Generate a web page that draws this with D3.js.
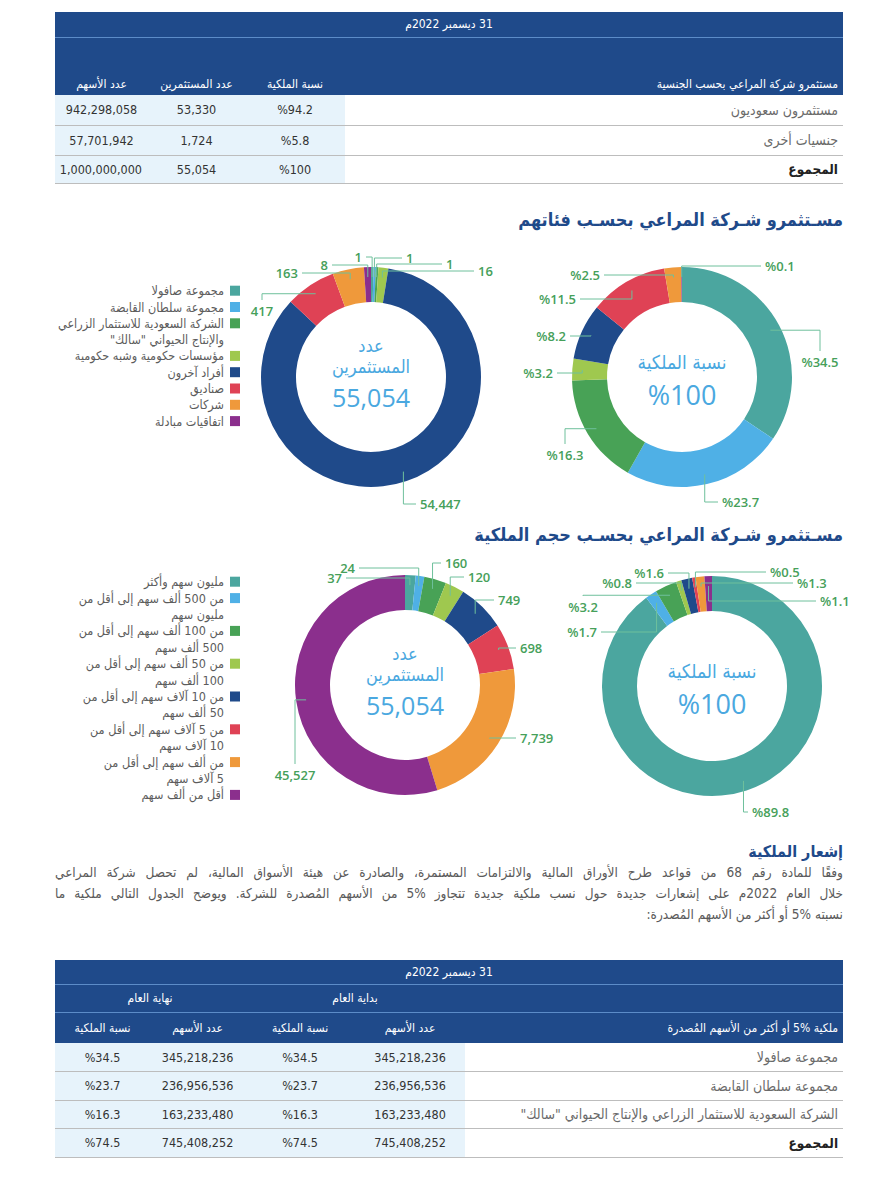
<!DOCTYPE html>
<html lang="ar">
<head>
<meta charset="utf-8">
<script src="https://cdn.jsdelivr.net/npm/d3@7"></script>
<style>
  body { margin: 0; background: #fff; font-family: "DejaVu Sans Condensed", "DejaVu Sans", sans-serif; }
  #page { position: relative; width: 888px; height: 1200px; overflow: hidden; }
  .tbl { position: absolute; border-collapse: collapse; direction: rtl; table-layout: fixed; font-size: 12px; }
  .tbl th { background: #1f4a8a; color: #fff; font-weight: normal; padding: 0 6px; text-align: center; }
  .tbl th.lab { text-align: right; }
  .tbl tr.top th { border-bottom: 1px solid #5c8cc8; }
  .tbl td { padding: 0 6px; border-bottom: 1.5px solid #bdbdbd; }
  .tbl td.num { background: #e7f3fb; text-align: center; color: #333; font-size: 12.5px; }
  .tbl td.lab { text-align: right; color: #6a6a6a; font-size: 14px; }
  .tbl tr.total td.lab { color: #222; font-weight: bold; font-size: 13.5px; }
  .title { position: absolute; right: 45px; direction: rtl; color: #1f4a8a; font-weight: bold; font-size: 18px; white-space: nowrap; }
  .para { position: absolute; left: 55px; width: 788px; direction: rtl; color: #5a5a5a; font-size: 13.5px; }
  .para div { height: 21px; line-height: 21px; white-space: nowrap; }
  .para div.j { text-align: justify; text-align-last: justify; white-space: normal; }
  svg { position: absolute; left: 0; top: 0; pointer-events: none; }
</style>
</head>
<body>
<div id="page"></div>
<script>
// ---- data ----
const nationalityNames = ['مستثمرون سعوديون', 'جنسيات أخرى'];
const nationalityOwnership = [94.2, 5.8];
const nationalityInvestors = [53330, 1724];
const nationalityShares = [942298058, 57701942];

const categoryNames = [
  ['مجموعة صافولا'],
  ['مجموعة سلطان القابضة'],
  ['الشركة السعودية للاستثمار الزراعي', 'والإنتاج الحيواني "سالك"'],
  ['مؤسسات حكومية وشبه حكومية'],
  ['أفراد آخرون'],
  ['صناديق'],
  ['شركات'],
  ['اتفاقيات مبادلة']
];
const categoryInvestors = [1, 1, 1, 16, 54447, 417, 163, 8];
const categoryOwnership = [34.5, 23.7, 16.3, 3.2, 8.2, 11.5, 2.5, 0.1];

const sizeNames = [
  ['مليون سهم وأكثر'],
  ['من 500 ألف سهم إلى أقل من', 'مليون سهم'],
  ['من 100 ألف سهم إلى أقل من', '500 ألف سهم'],
  ['من 50 ألف سهم إلى أقل من', '100 ألف سهم'],
  ['من 10 آلاف سهم إلى أقل من', '50 ألف سهم'],
  ['من 5 آلاف سهم إلى أقل من', '10 آلاف سهم'],
  ['من ألف سهم إلى أقل من', '5 آلاف سهم'],
  ['أقل من ألف سهم']
];
const sizeInvestors = [37, 24, 160, 120, 749, 698, 7739, 45527];
const sizeOwnership = [89.8, 1.7, 3.2, 0.8, 1.6, 0.5, 1.3, 1.1];

const holderNames = ['مجموعة صافولا', 'مجموعة سلطان القابضة', 'الشركة السعودية للاستثمار الزراعي والإنتاج الحيواني "سالك"'];
const holderSharesStart = [345218236, 236956536, 163233480];
const holderOwnershipStart = [34.5, 23.7, 16.3];
const holderSharesEnd = [345218236, 236956536, 163233480];
const holderOwnershipEnd = [34.5, 23.7, 16.3];

// ---- style ----
const palette = ['#4ba69f', '#4fb0e6', '#48a256', '#9fc84f', '#1f4a8a', '#df4255', '#ef993b', '#8b2f8d'];
const leaderColor = '#6fc09c';
const labelColor = '#46a05a';
const centerColor = '#4aa8e0';

const fmt = d3.format(',');
const pct = v => '%' + (+v.toFixed(1));
const rtl = s => '\u200F' + s + '\u200F';

const page = d3.select('#page');

// ---- top table: by nationality ----
const t1 = page.append('table').attr('class', 'tbl')
  .style('left', '55px').style('top', '12px').style('width', '788px');
const cg1 = t1.append('colgroup');
[498, 100, 97, 93].forEach(w => cg1.append('col').style('width', w + 'px'));
t1.append('tr').attr('class', 'top').style('height', '25px')
  .append('th').attr('colspan', 4).text('31 ديسمبر 2022م');
const h1 = t1.append('tr').style('height', '58px');
['مستثمرو شركة المراعي بحسب الجنسية', 'نسبة الملكية', 'عدد المستثمرين', 'عدد الأسهم'].forEach((s, i) =>
  h1.append('th').attr('class', i === 0 ? 'lab' : null).style('vertical-align', 'bottom')
    .style('padding-bottom', '4px').style('padding-right', i === 0 ? '5px' : null).text(s));
const rows1 = nationalityNames.map((n, i) => [n, pct(nationalityOwnership[i]), fmt(nationalityInvestors[i]), fmt(nationalityShares[i])]);
rows1.push(['المجموع', pct(d3.sum(nationalityOwnership)), fmt(d3.sum(nationalityInvestors)), fmt(d3.sum(nationalityShares))]);
rows1.forEach((r, ri) => {
  const tr = t1.append('tr').attr('class', ri === rows1.length - 1 ? 'total' : null)
    .style('height', ri === rows1.length - 1 ? '28px' : '30px');
  r.forEach((c, ci) => tr.append('td').attr('class', ci === 0 ? 'lab' : 'num')
    .style('padding-right', ci === 0 ? '5px' : null).text(c));
});

// ---- section titles ----
page.append('div').attr('class', 'title').style('top', '209px').text('مسـتثمرو شـركة المراعي بحسـب فئاتهم');
page.append('div').attr('class', 'title').style('top', '524px').text('مسـتثمرو شـركة المراعي بحسـب حجم الملكية');

// ---- paragraph ----
page.append('div').attr('class', 'title').style('top', '842px').style('font-size', '16px').text('إشعار الملكية');
const para = page.append('div').attr('class', 'para').style('top', '862px');
para.append('div').attr('class', 'j').text('وفقًا للمادة رقم 68 من قواعد طرح الأوراق المالية والالتزامات المستمرة، والصادرة عن هيئة الأسواق المالية، لم تحصل شركة المراعي');
para.append('div').attr('class', 'j').text('خلال العام 2022م على إشعارات جديدة حول نسب ملكية جديدة تتجاوز %5 من الأسهم المُصدرة للشركة. ويوضح الجدول التالي ملكية ما');
para.append('div').text('نسبته %5 أو أكثر من الأسهم المُصدرة:');

// ---- bottom table: holders of 5% or more ----
const t2 = page.append('table').attr('class', 'tbl')
  .style('left', '55px').style('top', '960px').style('width', '788px');
const cg2 = t2.append('colgroup');
[378, 110, 110, 95, 95].forEach(w => cg2.append('col').style('width', w + 'px'));
t2.append('tr').attr('class', 'top').style('height', '24px')
  .append('th').attr('colspan', 5).text('31 ديسمبر 2022م');
const g2 = t2.append('tr').attr('class', 'top').style('height', '28px');
g2.append('th');
g2.append('th').attr('colspan', 2).text('بداية العام');
g2.append('th').attr('colspan', 2).text('نهاية العام');
const h2 = t2.append('tr').style('height', '31px');
['ملكية %5 أو أكثر من الأسهم المُصدرة', 'عدد الأسهم', 'نسبة الملكية', 'عدد الأسهم', 'نسبة الملكية'].forEach((s, i) =>
  h2.append('th').attr('class', i === 0 ? 'lab' : null).style('padding-right', i === 0 ? '5px' : null).text(s));
const rows2 = holderNames.map((n, i) => [n, fmt(holderSharesStart[i]), pct(holderOwnershipStart[i]), fmt(holderSharesEnd[i]), pct(holderOwnershipEnd[i])]);
rows2.push(['المجموع', fmt(d3.sum(holderSharesStart)), pct(d3.sum(holderOwnershipStart)), fmt(d3.sum(holderSharesEnd)), pct(d3.sum(holderOwnershipEnd))]);
rows2.forEach((r, ri) => {
  const tr = t2.append('tr').attr('class', ri === rows2.length - 1 ? 'total' : null).style('height', '28.5px');
  r.forEach((c, ci) => tr.append('td').attr('class', ci === 0 ? 'lab' : 'num')
    .style('padding-right', ci === 0 ? '5px' : null).text(c));
});

// ---- donut charts ----
const svg = page.append('svg').attr('width', 888).attr('height', 1200);
const arc = d3.arc().innerRadius(75).outerRadius(110);
const anchorR = 100;

// counts are drawn on a sqrt scale so the small groups stay visible, as in the source
const countWeight = values => {
  const s = d3.scaleSqrt().domain([0, d3.max(values)]).range([0, 1]);
  return v => s(v);
};

function donut(cx, cy, values, weight, format, layout, center) {
  const g = svg.append('g').attr('transform', `translate(${cx},${cy})`);
  const arcs = d3.pie().sort(null).value(weight)(values);

  g.selectAll('path.slice').data(arcs).join('path')
    .attr('class', 'slice')
    .attr('d', arc)
    .attr('fill', (d, i) => palette[i]);

  arcs.forEach((d, i) => {
    const a = (d.startAngle + d.endAngle) / 2;
    const ax = Math.sin(a) * anchorR, ay = -Math.cos(a) * anchorR;
    const [lx, ly, bend] = layout[i];
    let pts, anchor;
    if (bend === 'h') {
      const s = lx > ax ? 1 : -1;
      pts = [[ax, ay], [ax, ly], [lx - 4 * s, ly]];
      anchor = s > 0 ? 'start' : 'end';
    } else {
      const s = ly > ay ? 1 : -1;
      pts = [[ax, ay], [lx, ay], [lx, ly - 11 * s]];
      anchor = 'middle';
    }
    g.append('path')
      .attr('d', d3.line()(pts))
      .attr('fill', 'none')
      .attr('stroke', leaderColor)
      .attr('stroke-width', 1);
    g.append('text')
      .attr('x', lx).attr('y', ly)
      .attr('dominant-baseline', 'central')
      .attr('text-anchor', anchor)
      .attr('fill', labelColor)
      .style('font-family', '"Open Sans", sans-serif')
      .style('font-weight', 600)
      .style('font-size', '13px')
      .text(format(values[i]));
  });

  center.forEach(c => {
    g.append('text')
      .attr('y', c.y)
      .attr('text-anchor', 'middle')
      .attr('dominant-baseline', 'central')
      .attr('fill', centerColor)
      .style('font-family', c.num ? '"Open Sans", sans-serif' : '"DejaVu Sans Condensed", sans-serif')
      .style('font-weight', c.num ? 500 : 'normal')
      .style('font-size', c.size + 'px')
      .text(c.num ? c.text : rtl(c.text));
  });
}

function legend(x, y0, names, lineH) {
  const g = svg.append('g');
  let line = 0;
  names.forEach((lines, i) => {
    const y = y0 + line * lineH;
    g.append('rect').attr('x', x + 6).attr('y', y - 5).attr('width', 10).attr('height', 10).attr('fill', palette[i]);
    lines.forEach((s, k) => {
      g.append('text')
        .attr('x', x).attr('y', y + k * lineH)
        .attr('text-anchor', 'end')
        .attr('dominant-baseline', 'central')
        .attr('fill', '#5c5c5c')
        .style('font-size', '12.5px')
        .text(rtl(s));
    });
    line += lines.length;
  });
}

const countCenter = total => [
  { text: 'عدد', y: -32, size: 18 },
  { text: 'المستثمرين', y: -11, size: 18 },
  { text: fmt(total), y: 20, size: 25, num: true }
];
const shareCenter = total => [
  { text: 'نسبة الملكية', y: -15, size: 19 },
  { text: pct(Math.round(total)), y: 17, size: 27, num: true }
];

// label placement relative to each ring centre: [x, y, bend]
donut(371, 377, categoryInvestors, countWeight(categoryInvestors), fmt, [
  [-9, -120, 'h'], [35, -119, 'h'], [75, -113, 'h'], [107, -106, 'h'],
  [49, 127, 'h'], [-109, -66, 'v'], [-73, -104, 'h'], [-43, -112, 'h']
], countCenter(d3.sum(categoryInvestors)));

donut(682, 377, categoryOwnership, d => d, pct, [
  [138, -15, 'v'], [40, 125, 'h'], [-117, 78, 'v'], [-129, -4, 'h'],
  [-116, -41, 'h'], [-106, -78, 'h'], [-82, -102, 'h'], [83, -111, 'h']
], shareCenter(d3.sum(categoryOwnership)));

donut(405, 685, sizeInvestors, countWeight(sizeInvestors), fmt, [
  [-63, -107, 'h'], [-50, -117, 'h'], [40, -122, 'h'], [63, -108, 'h'],
  [93, -85, 'h'], [115, -37, 'h'], [115, 53, 'h'], [-110, 90, 'v']
], countCenter(d3.sum(sizeInvestors)));

donut(712, 686, sizeOwnership, d => d, pct, [
  [40, 126, 'h'], [-115, -54, 'h'], [-129, -79, 'v'], [-80, -103, 'h'],
  [-48, -113, 'h'], [58, -114, 'h'], [85, -103, 'h'], [108, -85, 'h']
], shareCenter(d3.sum(sizeOwnership)));

legend(224, 290.7, categoryNames, 16.3);
legend(224, 581.7, sizeNames, 16.4);
</script>
</body>
</html>
